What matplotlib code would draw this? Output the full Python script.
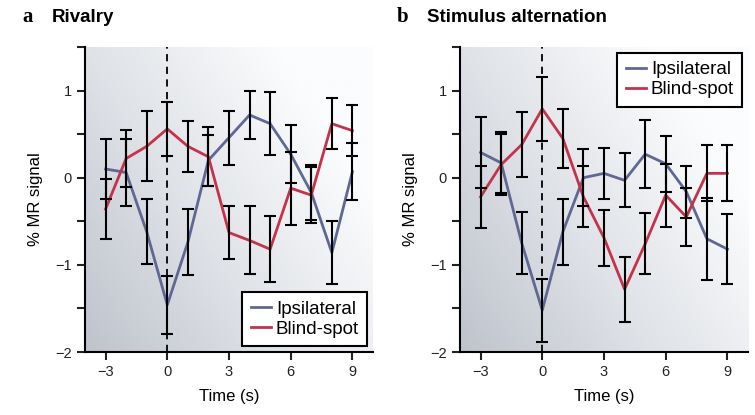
import numpy as np
import matplotlib
matplotlib.use('Agg')
import matplotlib.pyplot as plt
from matplotlib.colors import LinearSegmentedColormap

plt.rcParams['font.family'] = ['Liberation Sans', 'DejaVu Sans']

time = [-3, -2, -1, 0, 1, 2, 3, 4, 5, 6, 7, 8, 9]

# panel a: rivalry
riv_ipsi = [0.10, 0.06, -0.62, -1.46, -0.74, 0.20, 0.46, 0.72, 0.62, 0.27, -0.17, -0.86, 0.07]
riv_ipsi_err = [0.34, 0.38, 0.37, 0.33, 0.38, 0.29, 0.31, 0.28, 0.36, 0.33, 0.32, 0.36, 0.33]
riv_blind = [-0.36, 0.22, 0.36, 0.56, 0.36, 0.24, -0.63, -0.72, -0.82, -0.12, -0.20, 0.62, 0.54]
riv_blind_err = [0.34, 0.33, 0.40, 0.31, 0.29, 0.34, 0.30, 0.39, 0.38, 0.42, 0.32, 0.29, 0.29]

# panel b: stimulus alternation
alt_ipsi = [0.29, 0.17, -0.75, -1.52, -0.62, 0.00, 0.05, -0.03, 0.27, 0.16, -0.16, -0.70, -0.82]
alt_ipsi_err = [0.41, 0.35, 0.36, 0.36, 0.38, 0.33, 0.29, 0.31, 0.39, 0.32, 0.30, 0.47, 0.40]
alt_blind = [-0.22, 0.15, 0.38, 0.79, 0.45, -0.22, -0.69, -1.28, -0.76, -0.20, -0.45, 0.05, 0.05]
alt_blind_err = [0.36, 0.35, 0.37, 0.37, 0.34, 0.35, 0.32, 0.37, 0.35, 0.36, 0.33, 0.32, 0.32]

panels = [
    ('a', 'Rivalry', riv_ipsi, riv_ipsi_err, riv_blind, riv_blind_err, 'lower right'),
    ('b', 'Stimulus alternation', alt_ipsi, alt_ipsi_err, alt_blind, alt_blind_err, 'upper right'),
]

blue = '#5f6894'
red = '#c5324c'
bg_cmap = LinearSegmentedColormap.from_list('bg', ['#bfc3cc', '#dfe2e7', '#fbfcfd'])

fig = plt.figure(figsize=(7.55, 4.15), dpi=100)
lefts = [85 / 755, 460 / 755]
width = 288 / 755
bottom = 1 - 352 / 415
height = 305 / 415

for (letter, title, ipsi, ipsi_err, blind, blind_err, loc), left in zip(panels, lefts):
    ax = fig.add_axes([left, bottom, width, height])
    ax.set_xlim(-4, 10)
    ax.set_ylim(-2, 1.5)

    # diagonal gradient background
    gx, gy = np.meshgrid(np.linspace(0, 1, 200), np.linspace(0, 1, 200))
    grad = np.clip((gx * 0.9 + gy * 0.6) / 1.2, 0, 1)
    ax.imshow(grad, cmap=bg_cmap, extent=[-4, 10, -2, 1.5], origin='lower',
              aspect='auto', zorder=0, interpolation='bilinear')

    ax.axvline(0, color='black', ls=(0, (4, 3)), lw=1.3, zorder=1)

    ax.plot(time, ipsi, color=blue, lw=2, zorder=2, label='Ipsilateral')
    ax.plot(time, blind, color=red, lw=2, zorder=2, label='Blind-spot')
    ax.errorbar(time, ipsi, yerr=ipsi_err, fmt='none', ecolor='black',
                elinewidth=1.5, capsize=4, capthick=1.5, zorder=3)
    ax.errorbar(time, blind, yerr=blind_err, fmt='none', ecolor='black',
                elinewidth=1.5, capsize=4, capthick=1.5, zorder=3)

    ax.spines['top'].set_visible(False)
    ax.spines['right'].set_visible(False)
    for s in ['left', 'bottom']:
        ax.spines[s].set_linewidth(1.5)
    ax.set_xticks([-3, 0, 3, 6, 9])
    ax.set_yticks([-2, -1.5, -1, -0.5, 0, 0.5, 1, 1.5])
    ax.set_yticklabels(['\u22122', '', '\u22121', '', '0', '', '1', ''])
    ax.set_xticklabels(['\u22123', '0', '3', '6', '9'])
    ax.tick_params(direction='out', length=6, width=1.5, labelsize=10.5, colors='#222222')
    ax.set_xlabel('Time (s)', fontsize=12, labelpad=7)
    ax.set_ylabel('% MR signal', fontsize=12, labelpad=9)

    leg = ax.legend(loc=loc, fontsize=13.5, handlelength=1.1, handletextpad=0.25,
                    borderpad=0.45, labelspacing=0.15, fancybox=False, framealpha=1,
                    edgecolor='black', borderaxespad=0.3)
    leg.get_frame().set_linewidth(1.5)

    fig.text(left - 63 / 755, 1 - 17 / 415, letter, fontsize=15, fontweight='bold',
             family='Liberation Serif', va='center')
    fig.text(left - 33 / 755, 1 - 17 / 415, title, fontsize=13.5, fontweight='bold',
             va='center')

fig.savefig('out.png', dpi=100)
